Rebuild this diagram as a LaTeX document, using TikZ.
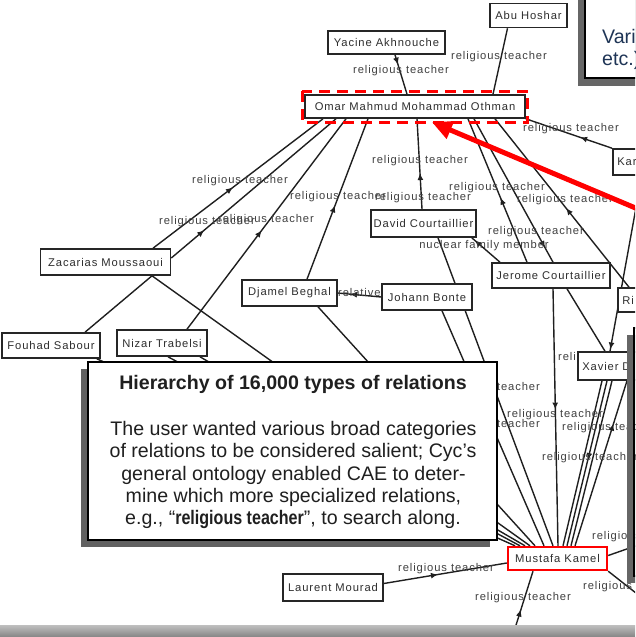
\documentclass[tikz,border=0pt]{standalone}
\usepackage{fontspec}
\setmainfont{Liberation Sans}
\newfontfamily\lblfont[LetterSpace=8]{Liberation Sans}
\newfontfamily\narrowfont[FakeStretch=0.82]{Liberation Sans}
\usetikzlibrary{arrows.meta,decorations.markings}
\pgfdeclarelayer{bg}
\pgfsetlayers{bg,main}
\definecolor{navy}{HTML}{1F3556}
\tikzset{
  nbox/.style={draw=black!85, line width=1.6pt, fill=white, inner sep=0pt, font=\lblfont\fontsize{11.2}{12}\selectfont, text=black!82},
  pbox/.style={nbox, anchor=west, inner xsep=4.5pt, text width=80pt, align=left},
  lbl/.style={font=\lblfont\fontsize{11.2}{12}\selectfont, text=black!75, inner sep=0pt},
  conn/.style={draw=black!88, line width=1.4pt},
  mid/.style={postaction={decorate,decoration={markings,mark=at position #1 with {\arrow{Latex[length=7pt,width=6pt]}}}}},
  midr/.style={postaction={decorate,decoration={markings,mark=at position #1 with {\arrowreversed{Latex[length=7pt,width=6pt]}}}}},
  body/.style={font=\fontsize{19.6}{22.3}\selectfont, text=black!88, inner sep=0pt, anchor=base},
}
\begin{document}
\begin{tikzpicture}[x=1pt,y=-1pt]
\useasboundingbox (0,0) rectangle (635,637);
\clip (0,0) rectangle (635,637);
% nodes
\node[nbox, minimum width=77pt, minimum height=24pt] (abu) at (528.5,15.5) {Abu Hoshar};
\node[nbox, minimum width=117pt, minimum height=23pt] (yac) at (386.5,42.5) {Yacine Akhnouche};
\node[nbox, minimum width=220pt, minimum height=23pt] (omar) at (415,106.5) {Omar Mahmud Mohammad Othman};
\node[pbox, minimum height=26pt] (kar) at (612,162) {Kar};
\node[nbox, minimum width=130pt, minimum height=26pt] (zac) at (105.5,262) {Zacarias Moussaoui};
\node[nbox, minimum width=98pt, minimum height=25pt] (fou) at (51,345.5) {Fouhad Sabour};
\node[nbox, minimum width=90pt, minimum height=26pt] (niz) at (162,343) {Nizar Trabelsi};
\node[nbox, minimum width=95pt, minimum height=26pt] (dja) at (289.5,293) {Djamel Beghal};
\node[nbox, minimum width=90pt, minimum height=26pt] (joh) at (427,297) {Johann Bonte};
\node[nbox, minimum width=105pt, minimum height=27pt] (dav) at (423.5,223.5) {David Courtaillier};
\node[nbox, minimum width=118pt, minimum height=25pt] (jer) at (551,275.5) {Jerome Courtaillier};
\node[pbox, minimum height=24pt] (ri) at (617,300) {Ri};
\node[pbox, minimum height=28pt] (xav) at (577,366) {Xavier D};
\node[nbox, draw=red, line width=2.4pt, minimum width=99pt, minimum height=23pt] (mus) at (557.5,558.5) {Mustafa Kamel};
\node[nbox, minimum width=100pt, minimum height=27pt] (lau) at (333,587.5) {Laurent Mourad};

\begin{pgfonlayer}{bg}
\clip (0,0) rectangle (635,637);
\draw[conn, mid=0.25] ([xshift=8.5pt]yac.south) -- ([xshift=-8pt]omar.north);
\draw[conn] ([xshift=-21pt]abu.south) -- ([xshift=78pt]omar.north);
\draw[conn, midr=0.63] (omar.south east) -- (kar.north west);
\draw[conn, mid=0.47] ([xshift=47.5pt]zac.north) -- ([xshift=-92pt]omar.south);
\draw[conn, mid=0.2] ([yshift=4pt]zac.east) -- ([xshift=-79pt]omar.south);
\draw[conn, mid=0.47] ([xshift=25pt]niz.north) -- ([xshift=-69pt]omar.south);
\draw[conn, mid=0.46] ([xshift=17.5pt]dja.north) -- ([xshift=-47pt]omar.south);
\draw[conn, mid=0.4] ([xshift=-1.5pt]dav.north) -- ([xshift=2pt]omar.south);
\draw[conn, mid=0.45] ([xshift=-24pt]jer.north) -- ([xshift=53pt]omar.south);
\draw[conn, mid=0.9] ([xshift=59pt]omar.south) -- ([xshift=2pt]jer.north);
\draw[conn, mid=0.47] ([xshift=12pt]ri.north west) -- ([xshift=80pt]omar.south);
\draw[conn, mid=0.9] ([xshift=-51pt]jer.north) -- ([xshift=-5pt]dav.south east);
\draw[conn, mid=0.72] (joh.west) -- (dja.east);
\draw[conn] ([xshift=14.5pt]dav.south) -- ([xshift=-4.5pt]mus.north);
\draw[conn] ([xshift=15pt]joh.south) -- ([xshift=-13.5pt]mus.north);
\draw[conn] ([xshift=46.5pt]zac.south) -- ([xshift=-27.5pt]mus.north);
\draw[conn] ([xshift=46.5pt]zac.south) -- ([xshift=34pt]fou.north);
\draw[conn] ([xshift=28.5pt]dja.south) -- ([xshift=-22.5pt]mus.north);
\draw[conn] ([xshift=6pt]niz.south) -- ([xshift=-37.5pt]mus.north);
\draw[conn] ([xshift=38pt]niz.south) -- ([xshift=-32.5pt]mus.north);
\draw[conn] ([xshift=-4pt]fou.south east) -- ([xshift=-42.5pt]mus.north);
\draw[conn, mid=0.47] ([xshift=2pt]jer.south) -- ([xshift=0.5pt]mus.north);
\draw[conn] ([xshift=16pt]jer.south) -- ([xshift=28pt]xav.north west);
\coordinate (offri) at (641,180);
\draw[conn, mid=0.99] (offri) -- ([xshift=33pt]xav.north west);
\draw[conn] ([xshift=25pt]xav.south west) -- ([xshift=5.5pt]mus.north);
\draw[conn, mid=0.48] ([xshift=30pt]xav.south west) -- ([xshift=9.5pt]mus.north);
\draw[conn] ([xshift=35pt]xav.south west) -- ([xshift=13.5pt]mus.north);
\draw[conn, midr=0.26] ([xshift=50pt]xav.south west) -- ([xshift=17.5pt]mus.north);
\coordinate (offr1) at (641,544);
\draw[conn] ([yshift=3pt]mus.east) -- (offr1);
\coordinate (offr2) at (641,597);
\draw[conn] (mus.south east) -- (offr2);
\coordinate (offb) at (511,641);
\draw[conn, mid=0.45] (offb) -- ([xshift=-24.5pt]mus.south);
\draw[conn, mid=0.44] ([yshift=4pt]lau.east) -- ([yshift=-4.5pt]mus.west);
% labels
\node[lbl] (l1) at (401,71) {religious teacher};
\node[lbl] (l2) at (499,57) {religious teacher};
\node[lbl] (l3) at (571,129) {religious teacher};
\node[lbl] (l4) at (240,181) {religious teacher};
\node[lbl] (l5) at (207,222) {religious teacher};
\node[lbl] (l6) at (266,220) {religious teacher};
\node[lbl] (l7) at (338,197) {religious teacher};
\node[lbl] (l8) at (420,161) {religious teacher};
\node[lbl] (l9) at (423,198) {religious teacher};
\node[lbl] (l10) at (497,188) {religious teacher};
\node[lbl] (l11) at (565,200) {religious teacher};
\node[lbl] (l12) at (536,232) {religious teacher};
\node[lbl] (l13) at (484,246) {nuclear family member};
\node[lbl, anchor=west] (l14) at (338,292) {relative};
\node[lbl] (l15) at (492,388) {religious teacher};
\node[lbl] (l16) at (555,415) {religious teacher};
\node[lbl] (l17) at (492,425) {religious teacher};
\node[lbl, anchor=west] (l18) at (562,428) {religious teacher};
\node[lbl, anchor=west] (l19) at (542,458) {religious teacher};
\node[lbl, anchor=west] (l20) at (558,358) {religious teacher};
\node[lbl, anchor=west] (l21) at (592,537) {religious teacher};
\node[lbl, anchor=west] (l22) at (583,587) {religious teacher};
\node[lbl] (l23) at (523,598) {religious teacher};
\node[lbl] (l24) at (446,569) {religious teacher};
\end{pgfonlayer}

% top-right callout
\fill[black!60] (578,-10) rectangle (645,86);
\draw[black, line width=1.6pt, fill=white] (585,-10) rectangle (650,78);
\node[anchor=base west, font=\fontsize{19.6}{22}\selectfont, text=navy, inner sep=0pt] (vari) at (602,43) {Vari};
\node[anchor=base west, font=\fontsize{19.6}{22}\selectfont, text=navy, inner sep=0pt] (etc) at (602,65) {etc.)};

% main callout
\fill[black!62] (81,369) rectangle (490,547);
\draw[black, line width=1.8pt, fill=white] (88,362) rectangle (497,540);
\node[body, font=\bfseries\fontsize{19.6}{22.3}\selectfont] (ct) at (293,389) {Hierarchy of 16,000 types of relations};
\node[body] (c1) at (293.5,435) {The user wanted various broad categories};
\node[body] (c2) at (293,457) {of relations to be considered salient; Cyc’s};
\node[body] (c3) at (293.5,480) {general ontology enabled CAE to deter-};
\node[body] (c4) at (293.5,502) {mine which more specialized relations,};
\node[body] (c5) at (293,524) {e.g., “{\narrowfont\bfseries religious teacher}”, to search along.};

% right callout edge
\fill[black!60] (627,335) rectangle (645,583);
\draw[black, line width=1.6pt, fill=white] (634,328) rectangle (660,576);

% red highlight
\draw[red, line width=3pt, dash pattern=on 11pt off 7pt] ([shift={(-2pt,3pt)}]omar.north west) rectangle ([shift={(2pt,-3.5pt)}]omar.south east);
\coordinate (redtail) at (645,212);
\draw[red, line width=5pt, -{Triangle[length=20pt,width=18pt]}] (redtail) -- ([xshift=17pt,yshift=-3.5pt]omar.south);

% bottom band
\shade[top color=black!25, bottom color=black!48] (0,625) rectangle (635,637);
\end{tikzpicture}
\end{document}
